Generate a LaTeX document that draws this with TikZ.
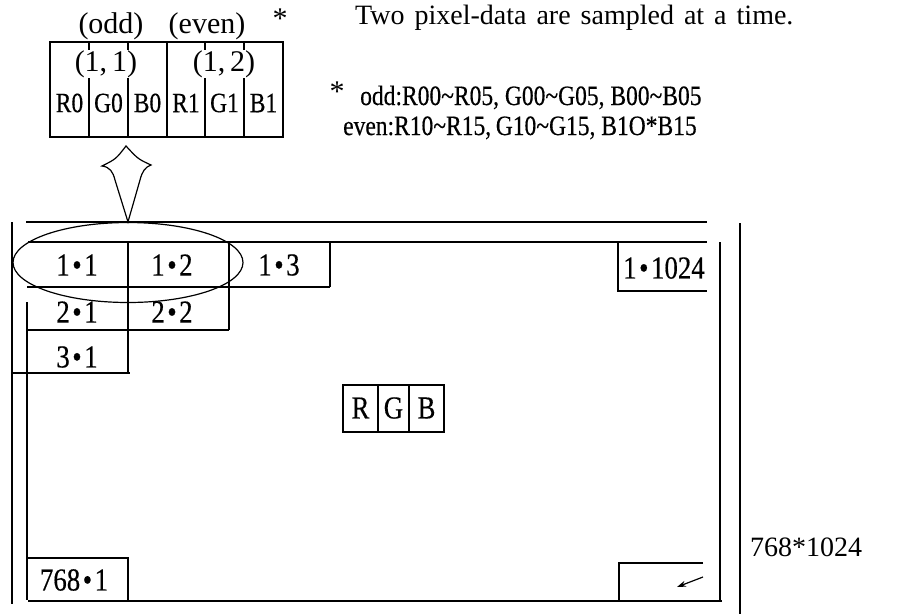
\documentclass[tikz,border=0pt]{standalone}
\usepackage{fontspec}
\setmainfont{Liberation Serif}
\newfontfamily\narrowfont[FakeStretch=0.84,FakeBold=0.4]{Liberation Serif}
\usetikzlibrary{arrows.meta,shapes.geometric}
\newcommand{\fsz}[1]{\fontsize{#1}{#1}\selectfont}
\newcommand{\pdot}{\kern2.5pt•\kern2.5pt}

\begin{document}
\begin{tikzpicture}[x=1pt,y=-1pt,
  heavy/.style={line width=2.8pt},
  medium/.style={line width=1.9pt},
  fine/.style={line width=1.2pt},
  lbl/.style={inner sep=0pt, font={\narrowfont\fsz{32}}},
  chan/.style={inner sep=0pt, font={\narrowfont\fsz{28}}},
  head/.style={inner sep=0pt, font={\fsz{30}}},
  note/.style={inner sep=0pt, font={\narrowfont\fsz{28}}, anchor=base west},
  big/.style={inner sep=0pt, font={\fsz{28}}, anchor=base west}]
\useasboundingbox (0,0) rectangle (898,614);

% ---- sampled pair of pixels (top box)
\node[draw, medium, minimum width=233pt, minimum height=95pt, inner sep=0pt] (sample) at (166.5,89.5) {};
\foreach \x in {89,128,167,205,244}
  \draw[fine] (\x,42) -- (\x,137);
\node[head] (odd)  at (111,26) {(odd)};
\node[head] (even) at (207,26) {(even)};
\node[head] (star) at (280,19) {*};
\node[head, fill=white] (p11) at (106,64) {(1,\,1)};
\node[head, fill=white] (p12) at (224,64) {(1,\,2)};
\node[chan] (r0) at (69.5,103)  {R0};
\node[chan] (g0) at (108.5,103) {G0};
\node[chan] (b0) at (147.5,103) {B0};
\node[chan] (r1) at (186,103)   {R1};
\node[chan] (g1) at (224.5,103) {G1};
\node[chan] (b1) at (263.5,103) {B1};

% ---- notes
\node[big] (title) at (355,24) {\spaceskip=10pt Two pixel-data are sampled at a time.};
\node[head] (nstar) at (337,92) {*};
\node[note] (nodd)  at (360,105) {odd:R00\textasciitilde R05, G00\textasciitilde G05, B00\textasciitilde B05};
\node[note] (neven) at (343,135) {even:R10\textasciitilde R15,\,G10\textasciitilde G15, B1O*B15};

% ---- screen frame
\draw[heavy]  (26,222) -- (707,222);
\draw[medium] (28,242) -- (707,242);
\draw[heavy]  (12,222) -- (12,604);
\draw[medium] (720,242) -- (720,601);
\draw[medium] (28,601) -- (722,601);
\draw[heavy]  (740,223) -- (740,614);
\draw[fine]   (27,302) -- (27,600);
\draw[heavy]  (12,373) -- (130,373);

% ---- pixel cells
\draw[fine] (128,242) -- (128,373);
\draw[fine] (229,242) -- (229,330);
\draw[fine] (330,242) -- (330,287);
\draw[fine] (27,287) -- (330,287);
\draw[fine] (27,330) -- (229,330);
\draw[fine] (618,242) -- (618,291) -- (707,291);
\draw[fine] (27,558) -- (128,558) -- (128,600);
\draw[fine] (703,563) -- (619,563) -- (619,600);

\node[lbl] (c11) at (77,265)  {1\pdot1};
\node[lbl] (c12) at (172,265) {1\pdot2};
\node[lbl] (c13) at (279,265) {1\pdot3};
\node[lbl] (c21) at (77,312)  {2\pdot1};
\node[lbl] (c22) at (172,312) {2\pdot2};
\node[lbl] (c31) at (77,357)  {3\pdot1};
\node[lbl] (c1024) at (664,268) {1\pdot1024};
\node[lbl] (c7681) at (74,580) {768\pdot1};

% last pixel marker
\coordinate (lastA) at (703,577);
\coordinate (lastB) at (677,587);
\draw[fine, -{Stealth[length=9pt,width=6pt]}] (lastA) -- (lastB);

% ---- RGB sub-pixels
\draw[fine] (343,385) rectangle (444,432);
\draw[fine] (378,385) -- (378,432);
\draw[fine] (409,385) -- (409,432);
\node[lbl] (sr) at (360.5,408) {R};
\node[lbl] (sg) at (393.5,408) {G};
\node[lbl] (sb) at (426.5,408) {B};

% ---- the sampled pair and its hollow arrow
\node[draw, fine, ellipse, minimum width=230pt, minimum height=80pt, inner sep=0pt] (pair) at (128,262.5) {};
\draw[fine, fill=white] (126,146) .. controls (116,159) .. (102,166)
  .. controls (110,167) and (113,172) .. (115,180) -- (pair.north)
  -- (140,180) .. controls (142,172) and (145,167) .. (151,165)
  .. controls (138,159) .. cycle;

\node[big] (size) at (750,556) {768*1024};
\end{tikzpicture}
\end{document}
